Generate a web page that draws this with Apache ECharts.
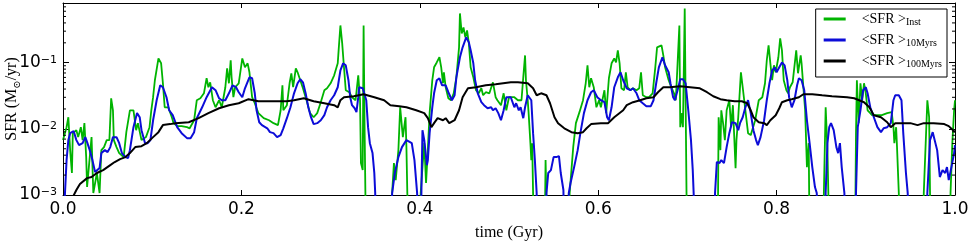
<!DOCTYPE html>
<html><head><meta charset="utf-8">
<script src="https://cdn.jsdelivr.net/npm/echarts@6/dist/echarts.min.js"></script>
<style>html,body{margin:0;padding:0;background:#fff}#c{width:969px;height:242px}</style>
</head><body><div id="c"></div><script>
// tick values
const xTicks = [0, 0.2, 0.4, 0.6, 0.8, 1.0];
const yMinorTicks = [0.002,0.003,0.004,0.005,0.006,0.007,0.008,0.009,0.02,0.03,0.04,0.05,0.06,0.07,0.08,0.09,0.2,0.3,0.4,0.5,0.6,0.7];
const seriesNames = ['Inst', '10Myrs', '100Myrs'];
// SFR = 0 (drawn below the axis floor)
const OFF = 0.0002;

// [time (Gyr), SFR (Msun/yr)]
const sfrInst = [[0.000,0.0068],[0.001,0.00676],[0.004,0.0106],[0.006,0.0150],[0.008,0.00477],[0.010,0.00215],[0.011,0.00861],[0.015,0.00955],[0.017,0.0075],[0.020,0.0106],[0.022,0.00676],[0.024,0.0122],[0.026,0.00374],[0.027,0.00132],[0.029,0.00264],[0.032,0.0075],[0.034,0.00107],[0.038,0.00215],[0.041,0.00107],[0.043,0.00477],[0.046,0.0053],[0.049,0.00676],[0.052,0.00676],[0.054,0.029],[0.056,0.0191],[0.057,0.00676],[0.060,0.0053],[0.063,0.0043],[0.068,0.00374],[0.071,0.00892],[0.075,0.0191],[0.079,0.0191],[0.082,0.00955],[0.084,0.0122],[0.088,0.00676],[0.093,0.0075],[0.097,0.0106],[0.099,0.0191],[0.101,0.0301],[0.103,0.0543],[0.105,0.0543],[0.107,0.116],[0.110,0.098],[0.112,0.0489],[0.114,0.0212],[0.118,0.0212],[0.122,0.015],[0.124,0.0122],[0.128,0.011],[0.133,0.011],[0.139,0.0106],[0.142,0.0102],[0.147,0.0135],[0.150,0.0271],[0.154,0.029],[0.158,0.0345],[0.161,0.0582],[0.163,0.0426],[0.165,0.0506],[0.168,0.0271],[0.171,0.0212],[0.175,0.0271],[0.178,0.0212],[0.182,0.0426],[0.184,0.0824],[0.186,0.0489],[0.188,0.109],[0.189,0.0602],[0.191,0.0301],[0.193,0.0426],[0.197,0.0489],[0.201,0.116],[0.204,0.0853],[0.207,0.098],[0.209,0.0717],[0.212,0.0301],[0.215,0.0244],[0.219,0.0173],[0.225,0.0145],[0.231,0.0135],[0.236,0.0122],[0.241,0.0114],[0.244,0.0191],[0.246,0.0456],[0.247,0.0191],[0.251,0.0228],[0.254,0.0489],[0.256,0.0692],[0.258,0.0426],[0.261,0.0824],[0.263,0.0717],[0.266,0.0543],[0.269,0.0411],[0.273,0.0271],[0.277,0.0173],[0.281,0.015],[0.285,0.0173],[0.289,0.0253],[0.293,0.0384],[0.296,0.0411],[0.300,0.0489],[0.304,0.0646],[0.308,0.098],[0.309,0.154],[0.311,0.366],[0.313,0.196],[0.315,0.0853],[0.317,0.0384],[0.321,0.0358],[0.324,0.0301],[0.328,0.0271],[0.331,0.0646],[0.333,0.0271],[0.334,0.00304],[0.336,0.00238],[0.337,0.366],[0.338,0.0135],[0.339,0.00107],[0.340,OFF],[0.368,OFF],[0.369,0.00107],[0.371,0.00304],[0.373,0.00168],[0.376,0.00477],[0.378,0.0212],[0.381,0.0075],[0.384,0.015],[0.385,0.0053],[0.386,0.00107],[0.388,OFF],[0.400,OFF],[0.401,0.00107],[0.403,0.00264],[0.405,0.00608],[0.407,0.00152],[0.409,0.00477],[0.411,0.0173],[0.414,0.0543],[0.416,0.0853],[0.419,0.101],[0.422,0.121],[0.424,0.0853],[0.426,0.0489],[0.427,0.0717],[0.429,0.0426],[0.432,0.029],[0.435,0.0271],[0.438,0.0345],[0.441,0.0602],[0.444,0.171],[0.445,0.556],[0.447,0.277],[0.449,0.342],[0.451,0.242],[0.453,0.308],[0.455,0.196],[0.457,0.0853],[0.460,0.0602],[0.463,0.0384],[0.466,0.0345],[0.469,0.0411],[0.471,0.0322],[0.474,0.0358],[0.478,0.0345],[0.482,0.0506],[0.485,0.0301],[0.487,0.0271],[0.491,0.0228],[0.494,0.0345],[0.497,0.0191],[0.500,0.0301],[0.502,0.0322],[0.506,0.0301],[0.510,0.0271],[0.514,0.0271],[0.516,0.0602],[0.518,0.129],[0.519,0.0543],[0.521,0.0271],[0.522,0.0173],[0.524,0.00608],[0.525,0.00337],[0.526,0.00608],[0.527,0.00107],[0.528,OFF],[0.540,OFF],[0.541,0.00337],[0.543,OFF],[0.567,OFF],[0.568,0.00107],[0.572,0.0053],[0.575,0.0122],[0.579,0.0179],[0.583,0.0271],[0.586,0.0489],[0.588,0.0914],[0.590,0.0426],[0.592,0.0582],[0.595,0.0426],[0.598,0.0212],[0.601,0.0271],[0.603,0.0212],[0.607,0.0384],[0.609,0.0173],[0.612,0.0582],[0.615,0.098],[0.618,0.116],[0.620,0.101],[0.622,0.154],[0.624,0.098],[0.626,0.0411],[0.629,0.0384],[0.631,0.0717],[0.633,0.0426],[0.636,0.0384],[0.639,0.0411],[0.643,0.0384],[0.646,0.0411],[0.648,0.0717],[0.650,0.0322],[0.654,0.0301],[0.657,0.0301],[0.661,0.0345],[0.664,0.0853],[0.666,0.171],[0.668,0.171],[0.671,0.183],[0.673,0.129],[0.675,0.0853],[0.679,0.0543],[0.682,0.0426],[0.685,0.0345],[0.687,0.0271],[0.689,0.098],[0.691,0.366],[0.692,0.0106],[0.694,0.0173],[0.695,0.0106],[0.697,0.66],[0.698,0.0271],[0.699,0.00107],[0.700,OFF],[0.734,OFF],[0.735,0.015],[0.737,0.00477],[0.738,0.0191],[0.740,0.0122],[0.742,0.00676],[0.744,0.0191],[0.747,0.0271],[0.749,0.0106],[0.751,0.0228],[0.754,0.00255],[0.755,0.00676],[0.757,0.015],[0.760,0.0717],[0.762,0.0426],[0.765,0.0191],[0.768,0.00861],[0.771,0.00804],[0.773,0.00861],[0.776,0.0135],[0.780,0.0271],[0.784,0.0301],[0.787,0.0489],[0.789,0.109],[0.791,0.183],[0.793,0.098],[0.795,0.0543],[0.797,0.0914],[0.799,0.0717],[0.802,0.121],[0.804,0.233],[0.806,0.154],[0.808,0.0543],[0.811,0.0384],[0.813,0.0345],[0.815,0.0426],[0.818,0.0506],[0.820,0.0489],[0.822,0.154],[0.824,0.0692],[0.827,0.129],[0.828,0.098],[0.830,0.0426],[0.832,0.0191],[0.834,0.00264],[0.836,0.00608],[0.837,OFF],[0.852,OFF],[0.853,0.00107],[0.855,0.0212],[0.857,0.00477],[0.858,0.00107],[0.859,OFF],[0.888,OFF],[0.889,0.00861],[0.890,0.0543],[0.892,0.0122],[0.894,0.0489],[0.896,0.0271],[0.898,0.0489],[0.900,0.0345],[0.902,0.0191],[0.905,0.0173],[0.907,0.0161],[0.913,0.0161],[0.918,0.0161],[0.924,0.0173],[0.929,0.0179],[0.931,0.0106],[0.932,0.00608],[0.934,0.0106],[0.935,0.0053],[0.937,0.00107],[0.938,OFF],[0.964,OFF],[0.965,0.00107],[0.969,0.0271],[0.971,0.015],[0.972,0.00107],[0.973,OFF],[0.994,OFF],[0.995,0.00107],[0.997,0.00608],[0.999,0.0191],[1.000,0.0271]];

const sfr10Myr = [[0.000,OFF],[0.002,0.00093],[0.004,0.00337],[0.006,0.00676],[0.008,0.00861],[0.012,0.00923],[0.015,0.00676],[0.018,0.00568],[0.022,0.00608],[0.025,0.0075],[0.027,0.0063],[0.030,0.00477],[0.033,0.00337],[0.036,0.00222],[0.038,0.00238],[0.041,0.00255],[0.043,0.0043],[0.047,0.00477],[0.050,0.00445],[0.053,0.0053],[0.056,0.0075],[0.060,0.0075],[0.063,0.00608],[0.066,0.0043],[0.070,0.00374],[0.073,0.00361],[0.075,0.00477],[0.079,0.0106],[0.083,0.0173],[0.086,0.015],[0.088,0.00955],[0.092,0.00608],[0.095,0.00608],[0.098,0.00676],[0.101,0.0135],[0.105,0.0271],[0.109,0.0456],[0.112,0.0426],[0.116,0.0301],[0.119,0.0191],[0.123,0.0161],[0.128,0.0106],[0.133,0.00861],[0.139,0.00724],[0.143,0.00724],[0.147,0.00892],[0.150,0.0145],[0.156,0.0212],[0.161,0.0301],[0.167,0.0426],[0.171,0.0384],[0.175,0.029],[0.178,0.0271],[0.182,0.0271],[0.186,0.0345],[0.190,0.0456],[0.194,0.0426],[0.197,0.0358],[0.201,0.0301],[0.204,0.0411],[0.209,0.0602],[0.212,0.0582],[0.215,0.0345],[0.217,0.0191],[0.220,0.0126],[0.223,0.0114],[0.229,0.0102],[0.232,0.00892],[0.236,0.00861],[0.240,0.0075],[0.244,0.00804],[0.247,0.0102],[0.251,0.0145],[0.255,0.0212],[0.259,0.0345],[0.263,0.0489],[0.266,0.0562],[0.269,0.0506],[0.272,0.0345],[0.275,0.0212],[0.278,0.015],[0.281,0.0118],[0.285,0.0122],[0.289,0.0135],[0.293,0.0161],[0.296,0.0212],[0.300,0.0271],[0.304,0.0322],[0.308,0.0426],[0.311,0.0768],[0.314,0.098],[0.317,0.0914],[0.320,0.0543],[0.322,0.0301],[0.324,0.0228],[0.327,0.0205],[0.329,0.0179],[0.331,0.0301],[0.332,0.0426],[0.336,0.0411],[0.338,0.0384],[0.340,0.0271],[0.342,0.0106],[0.344,0.00608],[0.347,0.0043],[0.349,0.00215],[0.350,0.00107],[0.351,OFF],[0.368,OFF],[0.369,0.00107],[0.372,0.00215],[0.376,0.00374],[0.380,0.0053],[0.385,0.00676],[0.391,0.00608],[0.394,0.00337],[0.397,0.00107],[0.398,OFF],[0.401,OFF],[0.402,0.00168],[0.403,0.00955],[0.405,0.00676],[0.408,0.00283],[0.409,0.00337],[0.411,0.00861],[0.414,0.0212],[0.416,0.0345],[0.419,0.0543],[0.422,0.0582],[0.425,0.0456],[0.429,0.0456],[0.432,0.0358],[0.436,0.0271],[0.439,0.0322],[0.441,0.0602],[0.445,0.121],[0.448,0.171],[0.452,0.242],[0.455,0.203],[0.457,0.154],[0.460,0.098],[0.462,0.0543],[0.465,0.0345],[0.469,0.0253],[0.472,0.0228],[0.476,0.0205],[0.480,0.0212],[0.482,0.0191],[0.485,0.0205],[0.488,0.0173],[0.491,0.0135],[0.494,0.0191],[0.497,0.0301],[0.502,0.0301],[0.506,0.0212],[0.508,0.0244],[0.511,0.0191],[0.513,0.0212],[0.516,0.0145],[0.518,0.0212],[0.521,0.0322],[0.523,0.0322],[0.525,0.0271],[0.527,0.00861],[0.529,0.00337],[0.531,0.00107],[0.532,OFF],[0.541,OFF],[0.542,0.00107],[0.544,0.00215],[0.547,0.00238],[0.550,0.00374],[0.553,0.00374],[0.556,0.00387],[0.558,0.00215],[0.561,0.00119],[0.562,OFF],[0.566,OFF],[0.567,0.00107],[0.569,0.00152],[0.573,0.00264],[0.577,0.00477],[0.580,0.00861],[0.584,0.0173],[0.588,0.0271],[0.592,0.0358],[0.595,0.0384],[0.599,0.0301],[0.603,0.0271],[0.607,0.0253],[0.610,0.015],[0.612,0.0135],[0.615,0.0212],[0.618,0.0426],[0.622,0.0602],[0.625,0.0717],[0.628,0.0543],[0.632,0.0411],[0.636,0.0384],[0.639,0.0411],[0.643,0.0345],[0.646,0.0271],[0.650,0.0244],[0.654,0.022],[0.659,0.022],[0.662,0.0271],[0.665,0.0489],[0.668,0.0853],[0.672,0.121],[0.675,0.0914],[0.679,0.0717],[0.681,0.0489],[0.684,0.0301],[0.686,0.0271],[0.689,0.0384],[0.692,0.0562],[0.695,0.0562],[0.698,0.0489],[0.701,0.0191],[0.704,0.00676],[0.706,0.00238],[0.707,0.00107],[0.709,OFF],[0.730,OFF],[0.731,0.00107],[0.733,0.00315],[0.736,0.00304],[0.738,0.00337],[0.741,0.00304],[0.744,0.0053],[0.747,0.00861],[0.750,0.0126],[0.754,0.0122],[0.757,0.00955],[0.759,0.0122],[0.762,0.015],[0.765,0.0212],[0.768,0.0271],[0.771,0.0173],[0.774,0.00955],[0.777,0.00676],[0.779,0.00568],[0.782,0.0075],[0.786,0.0135],[0.789,0.0271],[0.792,0.0489],[0.795,0.0768],[0.798,0.0853],[0.800,0.0717],[0.803,0.0853],[0.806,0.101],[0.809,0.0914],[0.812,0.0543],[0.814,0.0301],[0.817,0.0212],[0.820,0.0271],[0.823,0.0456],[0.825,0.0582],[0.828,0.0543],[0.831,0.0384],[0.834,0.0135],[0.837,0.00608],[0.840,0.00264],[0.843,0.00132],[0.845,0.00107],[0.847,OFF],[0.854,OFF],[0.855,0.00107],[0.857,0.00608],[0.859,0.0106],[0.861,0.0122],[0.864,0.00955],[0.867,0.0053],[0.869,0.0043],[0.871,0.00608],[0.873,0.00264],[0.876,0.00107],[0.877,OFF],[0.888,OFF],[0.889,0.00107],[0.891,0.0106],[0.894,0.0191],[0.897,0.0384],[0.900,0.0426],[0.902,0.0345],[0.905,0.0212],[0.909,0.015],[0.913,0.0106],[0.917,0.00892],[0.920,0.0102],[0.924,0.0106],[0.928,0.0122],[0.931,0.0271],[0.933,0.0322],[0.937,0.0322],[0.940,0.0271],[0.942,0.00861],[0.945,0.00215],[0.947,0.00107],[0.948,OFF],[0.968,OFF],[0.969,0.00107],[0.972,0.00676],[0.975,0.00892],[0.977,0.00861],[0.980,0.00477],[0.983,0.00187],[0.986,0.00238],[0.989,0.00215],[0.991,0.00264],[0.993,0.00168],[0.996,0.00264],[0.999,0.0043],[1.000,0.00568]];

const sfr100Myr = [[0.009,0.00071],[0.011,0.00093],[0.015,0.00119],[0.019,0.00147],[0.027,0.0018],[0.032,0.00187],[0.038,0.00215],[0.045,0.00238],[0.053,0.00283],[0.058,0.00315],[0.064,0.00349],[0.070,0.00374],[0.075,0.0043],[0.081,0.0053],[0.088,0.00548],[0.094,0.00608],[0.101,0.0075],[0.107,0.00892],[0.112,0.0114],[0.120,0.0118],[0.126,0.0122],[0.141,0.0126],[0.152,0.0145],[0.163,0.0173],[0.175,0.0205],[0.186,0.0228],[0.197,0.0244],[0.208,0.0281],[0.219,0.0262],[0.234,0.0262],[0.251,0.0262],[0.259,0.0271],[0.270,0.029],[0.281,0.0262],[0.293,0.0244],[0.304,0.0228],[0.308,0.0212],[0.311,0.0271],[0.315,0.0301],[0.326,0.0311],[0.337,0.0334],[0.349,0.0301],[0.360,0.0271],[0.367,0.0228],[0.377,0.022],[0.385,0.0212],[0.396,0.0191],[0.405,0.0173],[0.409,0.0145],[0.413,0.0106],[0.416,0.0122],[0.420,0.0145],[0.426,0.0135],[0.429,0.0145],[0.433,0.0122],[0.439,0.0135],[0.444,0.0191],[0.448,0.0301],[0.454,0.0411],[0.463,0.0426],[0.474,0.0456],[0.485,0.0472],[0.502,0.0506],[0.510,0.0506],[0.521,0.0489],[0.527,0.0411],[0.531,0.0322],[0.536,0.0345],[0.542,0.0322],[0.546,0.0244],[0.551,0.015],[0.555,0.0122],[0.562,0.0102],[0.570,0.00892],[0.577,0.00861],[0.583,0.00892],[0.587,0.0102],[0.592,0.0118],[0.603,0.0122],[0.611,0.0122],[0.618,0.015],[0.628,0.0191],[0.632,0.0228],[0.639,0.0253],[0.647,0.0271],[0.654,0.029],[0.662,0.0301],[0.667,0.0358],[0.673,0.0426],[0.680,0.0426],[0.692,0.0441],[0.703,0.0426],[0.714,0.0411],[0.722,0.0358],[0.729,0.0311],[0.737,0.0281],[0.744,0.0271],[0.753,0.0262],[0.761,0.0262],[0.767,0.0244],[0.771,0.0191],[0.774,0.015],[0.780,0.0126],[0.786,0.0122],[0.789,0.0114],[0.793,0.0135],[0.799,0.0161],[0.803,0.0205],[0.806,0.0253],[0.812,0.0271],[0.817,0.0281],[0.825,0.0301],[0.830,0.0334],[0.840,0.0334],[0.851,0.0322],[0.862,0.0311],[0.879,0.0301],[0.887,0.029],[0.898,0.0253],[0.904,0.0212],[0.909,0.0161],[0.917,0.015],[0.924,0.0126],[0.928,0.0106],[0.933,0.0122],[0.943,0.0122],[0.950,0.0122],[0.958,0.0114],[0.965,0.0122],[0.976,0.0122],[0.988,0.0118],[0.993,0.011],[0.999,0.00923],[1.000,0.00892]];

const colors = ['#00b400', '#0c0cd8', '#000000'];

function isPow10(v) { const e = Math.log10(v); return Math.abs(e - Math.round(e)) < 1e-6; }
const SANS = 'DejaVu Sans', SERIF = 'Liberation Serif';

const yLabel = {
  formatter: v => isPow10(v) ? '{n|10}{e|' + String(Math.round(Math.log10(v))).replace('-', '\u2212') + '}' : '',
  margin: 6, showMinLabel: true,
  rich: {
    n: { fontFamily: SANS, fontSize: 17, lineHeight: 16, color: '#000' },
    e: { fontFamily: SANS, fontSize: 11, lineHeight: 11, verticalAlign: 'top', color: '#000' }
  }
};
const frameLine = { show: true, onZero: false, lineStyle: { color: '#000', width: 1 } };
const majorTick = len => ({ show: true, inside: true, length: len, lineStyle: { color: '#000', width: 1 } });

const chart = echarts.init(document.getElementById('c'), null, { renderer: 'canvas' });
chart.setOption({
  animation: false,
  backgroundColor: '#fff',
  grid: { left: 63, right: 14, top: 3, bottom: 47, containLabel: false, outerBoundsMode: 'none' },
  xAxis: [
    { type: 'value', min: xTicks[0], max: xTicks[xTicks.length - 1], interval: 0.2, position: 'bottom',
      axisLine: frameLine, axisTick: majorTick(5), splitLine: { show: false },
      axisLabel: { formatter: v => v.toFixed(1), fontFamily: SANS, fontSize: 17, color: '#000', margin: 6, showMaxLabel: true, showMinLabel: true },
      name: 'time (Gyr)', nameLocation: 'middle', nameGap: 30, nameMoveOverlap: false,
      nameTextStyle: { fontFamily: SERIF, fontSize: 16, color: '#000' } },
    { type: 'value', min: xTicks[0], max: xTicks[xTicks.length - 1], interval: 0.2, position: 'top',
      axisLine: frameLine, axisTick: majorTick(5), splitLine: { show: false }, axisLabel: { show: false } }
  ],
  yAxis: [
    { type: 'log', logBase: 10, min: 0.001, max: 0.8, position: 'left',
      axisLine: frameLine, axisTick: majorTick(6), splitLine: { show: false }, minorTick: { show: false },
      axisLabel: yLabel,
      name: 'SFR (M{s|\u2299}/yr)', nameLocation: 'middle', nameGap: 41, nameRotate: 90, nameMoveOverlap: false,
      nameTextStyle: { fontFamily: SERIF, fontSize: 16, color: '#000', lineHeight: 20,
        rich: { s: { fontFamily: 'DejaVu Serif', fontSize: 10, lineHeight: 10, verticalAlign: 'bottom', color: '#000' } } } },
    { type: 'log', logBase: 10, min: 0.001, max: 0.8, position: 'right',
      axisLine: frameLine, axisTick: majorTick(6), splitLine: { show: false }, axisLabel: { show: false } }
  ],
  legend: {
    data: seriesNames, orient: 'vertical', right: 22, top: 9,
    backgroundColor: '#fff', borderColor: '#000', borderWidth: 1, borderRadius: 0,
    padding: [3, 5, 8, 8], itemGap: 6, itemWidth: 22, itemHeight: 3, icon: 'rect',
    formatter: n => '{a|<SFR >}{b|' + n + '}',
    textStyle: { rich: {
      a: { fontFamily: SERIF, fontSize: 14, lineHeight: 16, padding: [0, 0, 0, 11], color: '#000' },
      b: { fontFamily: SERIF, fontSize: 10, lineHeight: 10, verticalAlign: 'bottom', color: '#000' }
    } }
  },
  series: [
    { name: seriesNames[0], type: 'line', data: sfrInst, showSymbol: false, symbol: 'none', clip: true,
      lineStyle: { color: colors[0], width: 1.8 }, itemStyle: { color: colors[0] }, z: 2 },
    { name: seriesNames[1], type: 'line', data: sfr10Myr, showSymbol: false, symbol: 'none', clip: true,
      lineStyle: { color: colors[1], width: 2 }, itemStyle: { color: colors[1] }, z: 3 },
    { name: seriesNames[2], type: 'line', data: sfr100Myr, showSymbol: false, symbol: 'none', clip: true,
      lineStyle: { color: colors[2], width: 2 }, itemStyle: { color: colors[2] }, z: 4 },
    { type: 'custom', coordinateSystem: 'cartesian2d', xAxisIndex: 0, yAxisIndex: 0, silent: true, clip: false, z: 10,
      data: yMinorTicks.map(v => [0, v]),
      renderItem: (params, api) => {
        const y = api.value(1);
        const a = api.coord([xTicks[0], y]);
        const b = api.coord([xTicks[xTicks.length - 1], y]);
        return { type: 'group', children: [
          { type: 'line', shape: { x1: a[0], y1: a[1], x2: a[0] + 3, y2: a[1] }, style: { stroke: '#000', lineWidth: 1 } },
          { type: 'line', shape: { x1: b[0], y1: b[1], x2: b[0] - 3, y2: b[1] }, style: { stroke: '#000', lineWidth: 1 } }
        ] };
      } }
  ]
});
</script></body></html>
